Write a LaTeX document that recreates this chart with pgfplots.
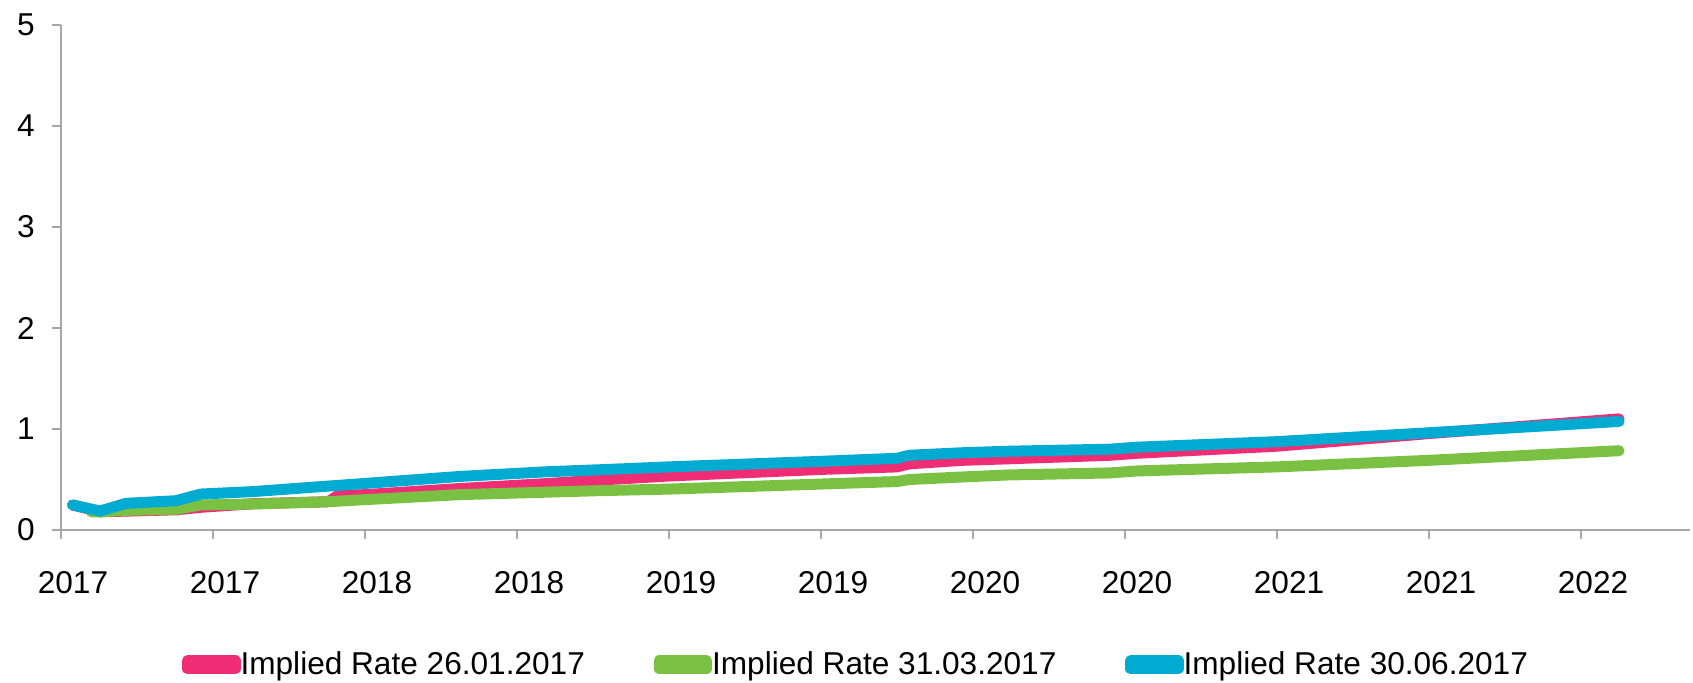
\documentclass[border=0pt]{standalone}
\usepackage{fontspec}
\setmainfont{Liberation Sans}
\usepackage{pgfplots}
\pgfplotsset{compat=1.18}
\definecolor{cpink}{HTML}{EE2D74}
\definecolor{cgreen}{HTML}{7AC143}
\definecolor{cblue}{HTML}{00ABD2}
\definecolor{axgray}{RGB}{166,166,166}
\begin{document}
\fontsize{15.8}{19}\selectfont
\begin{tikzpicture}
\path[use as bounding box] (-30.5pt,-76pt) rectangle (816pt,265pt);
\begin{axis}[
  at={(0pt,0pt)}, anchor=south west,
  width=814.5pt, height=252.5pt, scale only axis,
  xmin=0, xmax=10.717, ymin=0, ymax=5,
  axis x line*=bottom, axis y line*=left,
  axis line style={axgray, line width=0.75pt},
  xtick={0,1,2,3,4,5,6,7,8,9,10},
  xticklabels={2017,2017,2018,2018,2019,2019,2020,2020,2021,2021,2022},
  ytick={0,1,2,3,4,5},
  yticklabels={0,1,2,3,4,5},
  tick align=outside, major tick length=4.5pt,
  tick style={axgray, line width=0.75pt},
  ticklabel style={font=\fontsize{15.8}{19}\selectfont, text=black},
  xticklabel style={anchor=north, inner sep=0pt, yshift=-16pt, xshift=6pt},
  yticklabel style={anchor=east, inner sep=0pt, xshift=-8.5pt},
  legend columns=3,
  legend style={draw=none, fill=none, at={(axis description cs:0.4874,-0.2673)}, anchor=center,
    font=\fontsize{15.8}{19}\selectfont, nodes={inner sep=0pt},
    /tikz/every even column/.append style={column sep=34.3pt}},
  legend image code/.code={\draw[#1, line width=4.5pt, line cap=round] (2.3pt,0pt) -- (21.5pt,0pt); \path (0pt,-2pt) rectangle (23.8pt,2pt);},
  every axis plot/.append style={line width=5.5pt, line cap=round, line join=round},
]
\addplot[cpink] coordinates {
 (0.076,0.248) (0.257,0.18) (0.5,0.19) (0.756,0.20) (0.92,0.225) (1.26,0.26)
 (1.76,0.28) (1.82,0.34) (2.0,0.35) (2.62,0.41) (3.2,0.46) (3.55,0.495)
 (4.0,0.535) (5.0,0.60) (5.5,0.625) (5.58,0.655) (5.93,0.69) (6.23,0.705)
 (6.9,0.74) (7.08,0.76) (8.0,0.83) (9.0,0.955) (10.25,1.10)};
\addlegendentry{Implied Rate 26.01.2017}
\addplot[cgreen] coordinates {
 (0.2,0.18) (0.257,0.18) (0.428,0.195) (0.756,0.205) (0.92,0.248) (1.26,0.257)
 (1.76,0.28) (1.99,0.30) (2.62,0.35) (3.2,0.375) (3.55,0.39) (4.0,0.405)
 (5.0,0.455) (5.5,0.48) (5.58,0.50) (5.93,0.525) (6.23,0.545) (6.9,0.565)
 (7.08,0.585) (8.0,0.625) (9.0,0.69) (10.25,0.785)};
\addlegendentry{Implied Rate 31.03.2017}
\addplot[cblue] coordinates {
 (0.076,0.248) (0.257,0.188) (0.428,0.264) (0.756,0.29) (0.92,0.356) (1.26,0.38)
 (1.76,0.435) (1.99,0.46) (2.62,0.53) (3.2,0.577) (3.55,0.597) (4.0,0.625)
 (5.0,0.68) (5.5,0.71) (5.58,0.74) (5.93,0.765) (6.23,0.78) (6.9,0.80)
 (7.08,0.82) (8.0,0.875) (9.0,0.963) (10.25,1.075)};
\addlegendentry{Implied Rate 30.06.2017}
\end{axis}
\end{tikzpicture}
\end{document}
